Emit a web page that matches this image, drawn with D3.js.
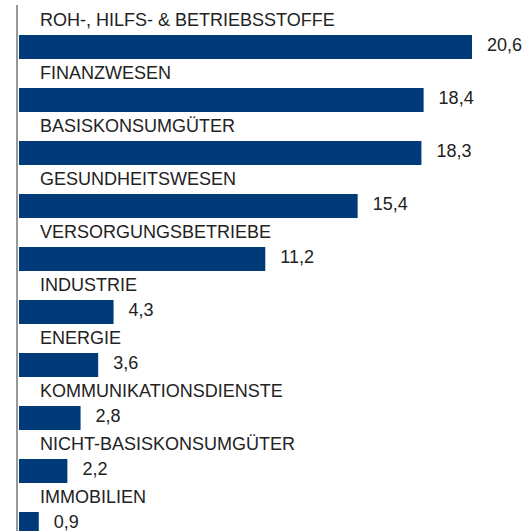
<!DOCTYPE html>
<html>
<head>
<meta charset="utf-8">
<script src="https://cdn.jsdelivr.net/npm/d3@7"></script>
<style>
  body { margin: 0; background: #fff; }
  .label { font-family: "Liberation Sans", Arial, sans-serif; font-size: 18px; fill: #222; }
</style>
</head>
<body>
<div id="chart"></div>
<script>
// sectors and weights (in %)
var categories = [
    "ROH-, HILFS- & BETRIEBSSTOFFE",
    "FINANZWESEN",
    "BASISKONSUMGÜTER",
    "GESUNDHEITSWESEN",
    "VERSORGUNGSBETRIEBE",
    "INDUSTRIE",
    "ENERGIE",
    "KOMMUNIKATIONSDIENSTE",
    "NICHT-BASISKONSUMGÜTER",
    "IMMOBILIEN"
];
var values = [20.6, 18.4, 18.3, 15.4, 11.2, 4.3, 3.6, 2.8, 2.2, 0.9];

var width = 524, height = 531;

var svg = d3.select("#chart").append("svg")
    .attr("width", width)
    .attr("height", height);

var data = categories.map(function(c, i) { return { name: c, value: values[i] }; });

// scales
var x = d3.scaleLinear()
    .domain([0, d3.max(values)])
    .range([19, 472]);

var y = d3.scaleBand()
    .domain(categories)
    .range([35, 536])
    .paddingInner(0.547)
    .paddingOuter(0)
    .align(0);

var fmt = function(v) { return d3.format(".1f")(v).replace(".", ","); };

// bars
svg.selectAll(".bar")
    .data(data)
    .enter()
    .append("rect")
    .attr("class", "bar")
    .attr("x", x(0))
    .attr("y", function(d) { return y(d.name); })
    .attr("width", function(d) { return x(d.value) - x(0); })
    .attr("height", y.bandwidth())
    .attr("fill", "#003a78");

// category labels above bars
svg.selectAll(".cat")
    .data(data)
    .enter()
    .append("text")
    .attr("class", "label cat")
    .attr("x", 40)
    .attr("y", function(d) { return y(d.name) - 9; })
    .text(function(d) { return d.name; });

// value labels
svg.selectAll(".val")
    .data(data)
    .enter()
    .append("text")
    .attr("class", "label val")
    .attr("x", function(d) { return x(d.value) + 15; })
    .attr("y", function(d) { return y(d.name) + 16; })
    .text(function(d) { return fmt(d.value); });

// vertical axis line
svg.append("line")
    .attr("x1", 17)
    .attr("x2", 17)
    .attr("y1", 5)
    .attr("y2", height)
    .attr("stroke", "#999")
    .attr("stroke-width", 2);
</script>
</body>
</html>
